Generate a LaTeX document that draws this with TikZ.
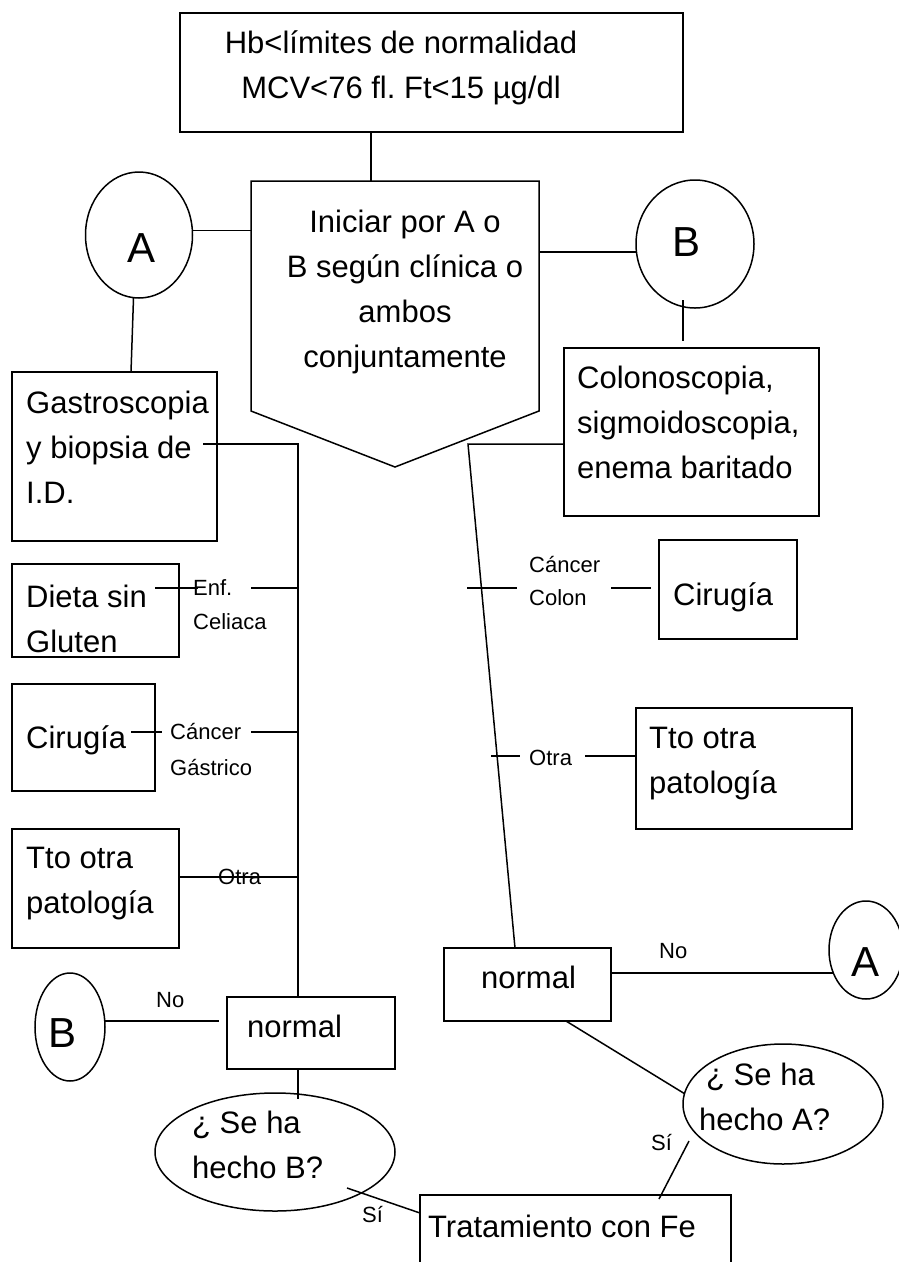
\documentclass[tikz,border=0pt]{standalone}
\usepackage{fontspec}
\setmainfont{Liberation Sans}
\usetikzlibrary{shapes.geometric}
\frenchspacing
\begin{document}
\begin{tikzpicture}[x=1pt,y=-1pt,
  box/.style={draw, line width=1.5pt, inner sep=0pt, outer sep=0pt},
  oval/.style={draw, ellipse, line width=1.5pt, inner sep=0pt, outer sep=0pt},
  conn/.style={line width=1.5pt},
  txt/.style={font=\fontsize{31}{45}\selectfont, inner sep=0pt, anchor=base west, align=left},
  ctxt/.style={font=\fontsize{31}{45}\selectfont, inner sep=0pt, anchor=base, align=center},
  small/.style={font=\fontsize{22}{26}\selectfont, inner sep=0pt, anchor=base west},
  big/.style={font=\fontsize{42}{50}\selectfont, inner sep=0pt, anchor=center}]
\useasboundingbox (0,0) rectangle (898,1262);

% boxes
\node[box, minimum width=503pt, minimum height=119pt] (top) at (431.5,72.5) {};
\node[inner sep=0pt, outer sep=0pt, minimum width=288pt, minimum height=230pt] (pent) at (395,296) {};
\coordinate (tip) at (395,467);
\draw[line width=1.5pt, line join=miter] (pent.north west) -- (pent.north east) -- (pent.south east) -- (tip) -- (pent.south west) -- cycle;
\node[box, minimum width=205pt, minimum height=169pt] (gastro) at (114.5,456.5) {};
\node[box, minimum width=255pt, minimum height=168pt] (colo) at (691.5,432) {};
\node[box, minimum width=167pt, minimum height=93pt] (dieta) at (95.5,610.5) {};
\node[box, minimum width=143pt, minimum height=107pt] (cirL) at (83.5,737.5) {};
\node[box, minimum width=167pt, minimum height=119pt] (ttoL) at (95.5,888.5) {};
\node[box, minimum width=138pt, minimum height=99pt] (cirR) at (728,589.5) {};
\node[box, minimum width=216pt, minimum height=121pt] (ttoR) at (744,768.5) {};
\node[box, minimum width=167pt, minimum height=73pt] (normR) at (527.5,984.5) {};
\node[box, minimum width=168pt, minimum height=72pt] (normL) at (311,1033) {};
\node[box, minimum width=311pt, minimum height=110pt] (trat) at (575.5,1250) {};

% ovals
\node[oval, minimum width=107pt, minimum height=126pt] (A1) at (139,235) {};
\node[oval, minimum width=118pt, minimum height=128pt] (B1) at (695,244) {};
\node[oval, minimum width=70pt, minimum height=108pt] (B2) at (70,1027) {};
\node[oval, minimum width=74pt, minimum height=98pt] (A3) at (866,950) {};
\node[oval, minimum width=240pt, minimum height=118pt] (QB) at (275,1152) {};
\node[oval, minimum width=200pt, minimum height=120pt] (QA) at (783,1104) {};

% letters
\node[big] (A1t) at (142,248) {A};
\node[big] (B1t) at (687,242) {B};
\node[big] (B2t) at (63,1033) {B};
\node[big] (A3t) at (865,962) {A};

% texts (base = baseline of last line)
\node[ctxt] (toptext) at (401,98) {Hb<límites de normalidad\\MCV<76 fl. Ft<15 µg/dl};
\node[ctxt] (penttext) at (405,367) {Iniciar por A o\\B según clínica o\\ambos\\conjuntamente};
\node[txt] (gastrotext) at (26,503) {Gastroscopia\\y biopsia de\\I.D.};
\node[txt] (colotext) at (577,478) {Colonoscopia,\\sigmoidoscopia,\\enema baritado};
\node[txt] (dietatext) at (26,652) {Dieta sin\\Gluten};
\node[txt] (cirLtext) at (26,748) {Cirugía};
\node[txt] (ttoLtext) at (26,913) {Tto otra\\patología};
\node[txt] (cirRtext) at (673,605) {Cirugía};
\node[txt] (ttoRtext) at (649,793) {Tto otra\\patología};
\node[txt] (normRtext) at (481,988) {normal};
\node[txt] (normLtext) at (247,1037) {normal};
\node[txt] (QBtext) at (192,1178) {¿ Se ha\\hecho B?};
\node[txt] (QAtext) at (699,1130) {\hspace*{7pt}¿ Se ha\\hecho A?};
\node[txt] (trattext) at (428,1237) {Tratamiento con Fe};

% small labels
\node[small] (l1) at (193,595) {Enf.};
\node[small] (l2) at (193,629) {Celiaca};
\node[small] (l3) at (170,739) {Cáncer};
\node[small] (l4) at (170,775) {Gástrico};
\node[small] (l5) at (218,884) {Otra};
\node[small] (l6) at (529,572) {Cáncer};
\node[small] (l7) at (529,605) {Colon};
\node[small] (l8) at (529,765) {Otra};
\node[small] (l9) at (659,958) {No};
\node[small] (l10) at (156,1007) {No};
\node[small] (l11) at (362,1222) {Sí};
\node[small] (l12) at (651,1150) {Sí};

% coordinates
\coordinate (gL) at (203,444);
\coordinate (gR) at (298,444);
\coordinate (rT) at (468,444);
\coordinate (aG) at (131,372);
\coordinate (b1a) at (683,300);
\coordinate (b1b) at (683,341);
\coordinate (d0) at (155,588);
\coordinate (d1) at (198,588);
\coordinate (d2) at (251,588);
\coordinate (c0) at (131,732);
\coordinate (c1) at (162,732);
\coordinate (c2) at (251,732);
\coordinate (o0) at (179,877);
\coordinate (r0) at (467,588);
\coordinate (r1) at (517,588);
\coordinate (r2) at (611,588);
\coordinate (r3) at (651,588);
\coordinate (s0) at (491,756);
\coordinate (s1) at (520,756);
\coordinate (s2) at (585,756);
\coordinate (nA) at (833,973);
\coordinate (bN) at (219,1021);
\coordinate (qBtop) at (298,1099);
\coordinate (nq) at (566,1021);
\coordinate (qb1) at (347,1188);
\coordinate (qb2) at (420,1213);
\coordinate (qa1) at (689,1141);
\coordinate (qa2) at (659,1199);

% connectors
\draw[conn] (371,0 |- top.south) -- (371,0 |- pent.north);
\draw[conn] (A1.5) -- (pent.west |- A1.5);
\draw[conn] (pent.east |- B1.188) -- (B1.188);
\draw[conn] (A1.265) -- (aG);
\draw[conn] (b1a) -- (b1b);
\draw[conn] (gL) -- (gR) -- (gR |- normL.north);
\draw[conn] (gR |- normL.south) -- (qBtop);
\draw[conn] (colo.west |- rT) -- (rT) -- (515,0 |- normR.north);
\draw[conn] (d0) -- (d1);
\draw[conn] (d2) -- (d2 -| gR);
\draw[conn] (c0) -- (c1);
\draw[conn] (c2) -- (c2 -| gR);
\draw[conn] (o0) -- (o0 -| gR);
\draw[conn] (r0) -- (r1);
\draw[conn] (r2) -- (r3);
\draw[conn] (s0) -- (s1);
\draw[conn] (s2) -- (s2 -| ttoR.west);
\draw[conn] (normR.east |- nA) -- (nA);
\draw[conn] (B2.east |- bN) -- (bN);
\draw[conn] (nq) -- (QA.174);
\draw[conn] (qb1) -- (qb2);
\draw[conn] (qa1) -- (qa2);
\end{tikzpicture}
\end{document}
